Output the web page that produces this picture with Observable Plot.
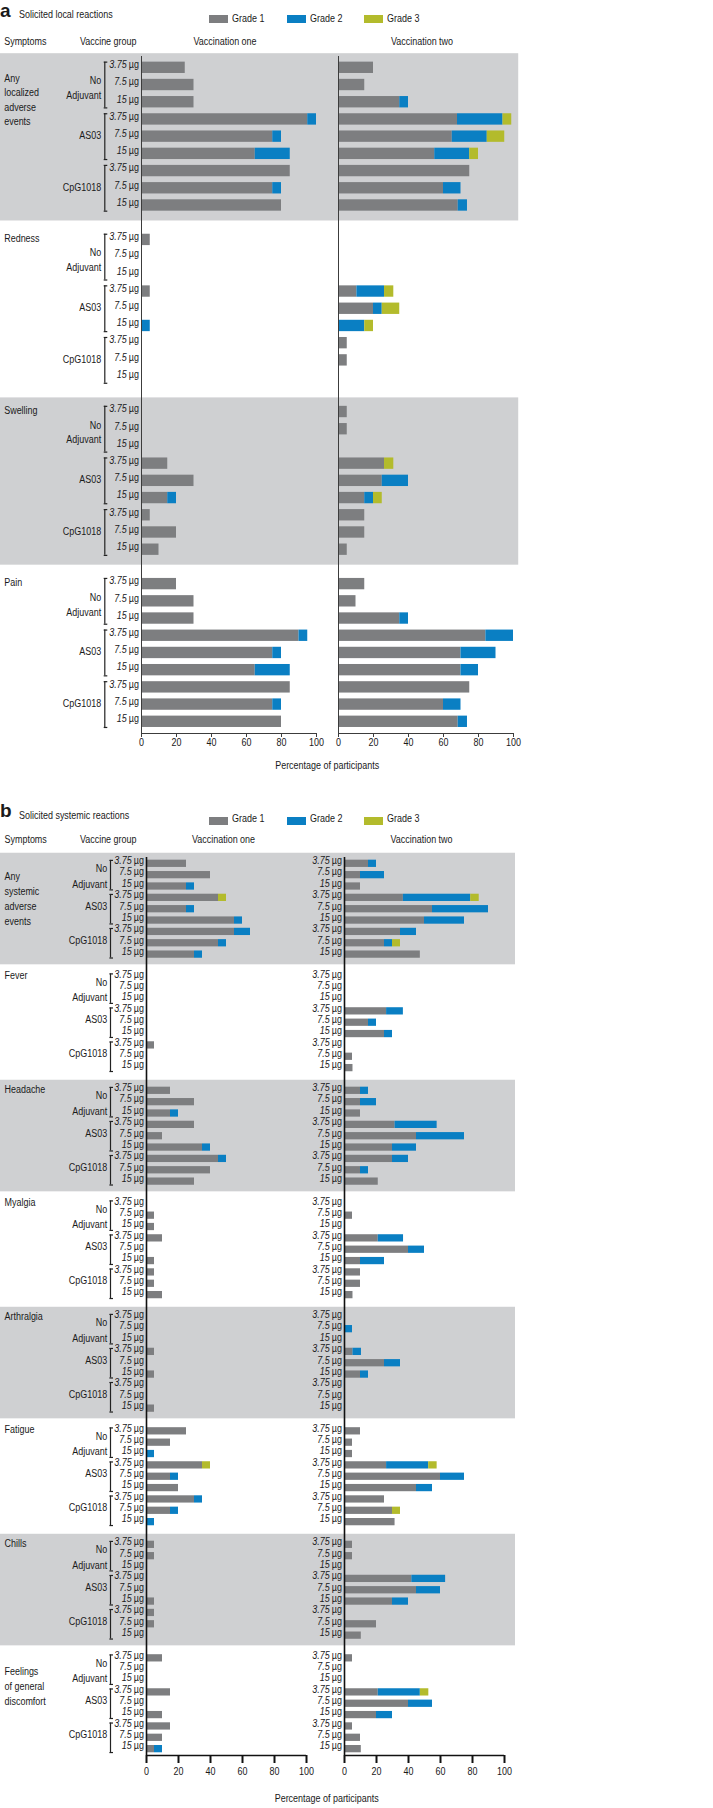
<!DOCTYPE html>
<html><head><meta charset="utf-8">
<script src="https://cdn.jsdelivr.net/npm/d3@7"></script>
<script src="https://cdn.jsdelivr.net/npm/@observablehq/plot@0.6"></script>
<style>
body{margin:0;background:#fff;}
#page{position:relative;width:713px;height:1808px;overflow:hidden;font-family:"Liberation Sans",Arial,sans-serif;color:#1a1a1a;}
.abs{position:absolute;line-height:1;white-space:nowrap;}
.letter{font-weight:bold;font-size:19px;}
.t{font-size:11.5px;transform:scaleX(0.78);transform-origin:0 0;}
.sw{position:absolute;width:19px;height:8px;}
</style></head>
<body><div id="page"></div>
<script>
// ---------- data ----------
const vaccinations = ["Vaccination one", "Vaccination two"];
const grades = ["Grade 1", "Grade 2", "Grade 3"];
const gradeColors = ["#7d7e80", "#0a7fc3", "#b3bb2c"];
const groups = ["No\nAdjuvant", "AS03", "CpG1018"];
const doses = ["3.75", "7.5", "15"];
const xTicks = [0, 20, 40, 60, 80, 100];

const localSymptoms = ["Any\nlocalized\nadverse\nevents", "Redness", "Swelling", "Pain"];
// order within each symptom: No Adjuvant 3.75/7.5/15, AS03 3.75/7.5/15, CpG1018 3.75/7.5/15
const local1G1 = [25,30,30, 95,75,65, 85,75,80,  5,0,0, 5,0,0, 0,0,0,  0,0,0, 15,30,15, 5,20,10,  20,30,30, 90,75,65, 85,75,80];
const local1G2 = [0,0,0, 5,5,20, 0,5,0,  0,0,0, 0,0,5, 0,0,0,  0,0,0, 0,0,5, 0,0,0,  0,0,0, 5,5,20, 0,5,0];
const local1G3 = [0,0,0, 0,0,0, 0,0,0,  0,0,0, 0,0,0, 0,0,0,  0,0,0, 0,0,0, 0,0,0,  0,0,0, 0,0,0, 0,0,0];
const local2G1 = [20,15,35, 68,65,55, 75,60,68.4,  0,0,0, 10.5,20,0, 5,5,0,  5,5,0, 26.3,25,15, 15,15,5,  15,10,35, 84.2,70,70, 75,60,68.4];
const local2G2 = [0,0,5, 26,20,20, 0,10,5.3,  0,0,0, 15.8,5,15, 0,0,0,  0,0,0, 0,15,5, 0,0,0,  0,0,5, 15.8,20,10, 0,10,5.3];
const local2G3 = [0,0,0, 5,10,5, 0,0,0,  0,0,0, 5.3,10,5, 0,0,0,  0,0,0, 5.3,0,5, 0,0,0,  0,0,0, 0,0,0, 0,0,0];

const systemicSymptoms = ["Any\nsystemic\nadverse\nevents", "Fever", "Headache", "Myalgia", "Arthralgia", "Fatigue", "Chills", "Feelings\nof general\ndiscomfort"];
const sys1G1 = [25,40,25, 45,25,55, 55,45,30,  0,0,0, 0,0,0, 5,0,0,  15,30,15, 30,10,35, 45,40,30,  0,5,5, 10,0,5, 5,5,10,
                0,0,0, 5,0,5, 0,0,5,  25,15,0, 35,15,20, 30,15,0,  5,5,0, 0,0,5, 5,5,0,  10,0,0, 15,0,10, 15,10,5];
const sys1G2 = [0,0,5, 0,5,5, 10,5,5,  0,0,0, 0,0,0, 0,0,0,  0,0,5, 0,0,5, 5,0,0,  0,0,0, 0,0,0, 0,0,0,
                0,0,0, 0,0,0, 0,0,0,  0,0,5, 0,5,0, 5,5,5,  0,0,0, 0,0,0, 0,0,0,  0,0,0, 0,0,0, 0,0,5];
const sys1G3 = [0,0,0, 5,0,0, 0,0,0,  0,0,0, 0,0,0, 0,0,0,  0,0,0, 0,0,0, 0,0,0,  0,0,0, 0,0,0, 0,0,0,
                0,0,0, 0,0,0, 0,0,0,  0,0,0, 5,0,0, 0,0,0,  0,0,0, 0,0,0, 0,0,0,  0,0,0, 0,0,0, 0,0,0];
const sys2G1 = [15,10,10, 36.8,55,50, 35,25,47.4,  0,0,0, 26.3,15,25, 0,5,5.3,  10,10,10, 31.6,45,30, 30,10,21.1,  0,5,0, 21.1,40,10, 10,10,5.3,
                0,0,0, 5.3,25,10, 0,0,0,  10,5,5, 26.3,60,45, 25,30,31.6,  5,5,0, 42.1,45,30, 0,20,10.5,  5,0,0, 21.1,40,20, 5,10,10.5];
const sys2G2 = [5,15,0, 42.1,35,25, 10,5,0,  0,0,0, 10.5,5,5, 0,0,0,  5,10,0, 26.3,30,15, 10,5,0,  0,0,0, 15.8,10,15, 0,0,0,
                0,5,0, 5.3,10,5, 0,0,0,  0,0,0, 26.3,15,10, 0,0,0,  0,0,0, 21.1,15,10, 0,0,0,  0,0,0, 26.3,15,10, 0,0,0];
const sys2G3 = [0,0,0, 5.3,0,0, 0,5,0,  0,0,0, 0,0,0, 0,0,0,  0,0,0, 0,0,0, 0,0,0,  0,0,0, 0,0,0, 0,0,0,
                0,0,0, 0,0,0, 0,0,0,  0,0,0, 5.3,0,0, 0,5,0,  0,0,0, 0,0,0, 0,0,0,  0,0,0, 5.3,0,0, 0,0,0];

// ---------- layout ----------
const FONT = '"Liberation Sans",Arial,sans-serif';
const SX = 0.78; // horizontal condensing of text (condensed sans look)
const W = 713;
const panels = [
  {letter: "a", title: "Solicited local reactions", symptoms: localSymptoms,
   values: [[local1G1, local1G2, local1G3], [local2G1, local2G2, local2G3]],
   top: 30, height: 748, marginTop: 26, marginBottom: 45, marginLeft: 141, marginRight: 198.7, fxPad: 0.11,
   yDomain: [-0.657, 38.68], band: [0.82, 0.9], bandRight: 519, halfBar: 0.33, bracketPad: 0.33,
   doseFacets: [vaccinations[0]], axisColor: "#3c3c3c", axisWidth: 1, tickSize: 4, tickWidth: 1, tickPadding: 8,
   symptomDx: -137.3, symptomDy: 1, multiDy: 3, symptomLH: 1.25, groupDx: -40.3, groupDy: 2, groupLH: 1.3, bracketDx: -36.7,
   headerDy: -12, headerDx: -4, vgDx: -5, xLabelDx: 10.7, xLabelDy: 35,
   letterTop: 1.4, titleTop: 9.3, legendTop: 13.3, swTop: 15},
  {letter: "b", title: "Solicited systemic reactions", symptoms: systemicSymptoms,
   values: [[sys1G1, sys1G2, sys1G3], [sys2G1, sys2G2, sys2G3]],
   top: 828, height: 980, marginTop: 29, marginBottom: 53, marginLeft: 146, marginRight: 209, fxPad: 0.192,
   yDomain: [-0.555, 78.56], band: [0.93, 0.9], bandRight: 515, halfBar: 0.32, bracketPad: 0.3,
   doseFacets: vaccinations, axisColor: "#111", axisWidth: 1.6, tickSize: 8, tickWidth: 2, tickPadding: 10.6,
   symptomDx: -142, symptomDy: 1, multiDy: 4.5, symptomLH: 1.31, groupDx: -39.3, groupDy: 0, groupLH: 1.34, bracketDx: -36,
   headerDy: -15.3, headerDx: -3, vgDx: -10, xLabelDx: 20.2, xLabelDy: 46,
   letterTop: 801, titleTop: 810.3, legendTop: 813.3, swTop: 816.5}
];
const swLeft = [209, 286.5, 364];
const legLeft = [232, 310, 386.7];

const page = document.getElementById("page");
function addDiv(cls, text, left, top, extra) {
  const d = document.createElement("div");
  d.className = cls;
  if (text != null) d.textContent = text;
  d.style.left = left + "px"; d.style.top = top + "px";
  if (extra) Object.assign(d.style, extra);
  page.appendChild(d);
  return d;
}
function condense(svg, sx) {
  svg.querySelectorAll("text").forEach((t) => {
    const x = parseFloat(t.getAttribute("x")) || 0, y = parseFloat(t.getAttribute("y")) || 0;
    const tr = t.getAttribute("transform") || "";
    t.removeAttribute("x"); t.removeAttribute("y");
    t.setAttribute("transform", `${tr} translate(${x},${y}) scale(${sx},1)`);
  });
}

const rowOf = (i) => Math.floor(i / 9) * 10 + (i % 9);

for (const c of panels) {
  addDiv("abs letter", c.letter, 0, c.letterTop);
  addDiv("abs t", c.title, 19.3, c.titleTop);
  grades.forEach((g, i) => {
    addDiv("sw", null, swLeft[i], c.swTop, {background: gradeColors[i]});
    addDiv("abs t", g, legLeft[i], c.legendTop);
  });

  const bars = [];
  c.values.forEach((byGrade, vi) => byGrade.forEach((arr, gi) => arr.forEach((value, i) => {
    if (!(value > 0)) return;
    const row = rowOf(i);
    bars.push({vacc: vaccinations[vi], grade: grades[gi], value, y1: row - c.halfBar, y2: row + c.halfBar});
  })));
  const doseRows = c.doseFacets.flatMap((v) => c.symptoms.flatMap((s, si) => groups.flatMap((g, gi) =>
    doses.map((d, di) => ({vacc: v, row: si * 10 + gi * 3 + di, dose: d})))));
  const groupRows = c.symptoms.flatMap((s, si) => groups.map((g, gi) => ({
    vacc: vaccinations[0], row: si * 10 + gi * 3 + 1, label: g,
    y1: si * 10 + gi * 3 - c.bracketPad, y2: si * 10 + gi * 3 + 2 + c.bracketPad})));
  const symptomRows = c.symptoms.map((s, si) => ({vacc: vaccinations[0], row: si * 10, label: s}));
  const bands = c.symptoms.map((s, si) => ({vacc: vaccinations[0], si, y1: si * 10 - c.band[0], y2: si * 10 + 8 + c.band[1]}))
    .filter((d) => d.si % 2 === 0);
  const inner = W - c.marginLeft - c.marginRight;
  const bw = inner * (1 - c.fxPad) / (2 - c.fxPad);
  const facet1Right = c.marginLeft + bw;
  const first = [{vacc: vaccinations[0]}];
  const symText = {y: "row", fx: "vacc", text: "label", frameAnchor: "left", textAnchor: "start", lineAnchor: "top", dx: c.symptomDx, lineHeight: c.symptomLH};

  const chart = Plot.plot({
    width: W, height: c.height,
    marginTop: c.marginTop, marginBottom: c.marginBottom, marginLeft: c.marginLeft, marginRight: c.marginRight,
    style: {fontFamily: FONT, fontSize: "11.5px", color: "#1a1a1a", background: "transparent", overflow: "visible"},
    fx: {domain: vaccinations, paddingInner: c.fxPad, paddingOuter: 0, axis: null, label: null},
    x: {domain: [0, 100]},
    y: {domain: c.yDomain, reverse: true, axis: null},
    color: {domain: grades, range: gradeColors},
    marks: [
      Plot.rect(bands, {y1: "y1", y2: "y2", fx: "vacc", fill: "#cfd0d2", insetLeft: -c.marginLeft, insetRight: -(c.bandRight - facet1Right)}),
      Plot.rectX(bars, {x: "value", y1: "y1", y2: "y2", fx: "vacc", fill: "grade"}),
      Plot.ruleX([0], {stroke: c.axisColor, strokeWidth: c.axisWidth}),
      Plot.ruleY([c.yDomain[1]], {stroke: c.axisColor, strokeWidth: c.axisWidth}),
      Plot.axisX({ticks: xTicks, tickSize: c.tickSize, tickPadding: c.tickPadding, label: null, strokeWidth: c.tickWidth, stroke: c.axisColor}),
      Plot.text(doseRows, {y: "row", fx: "vacc", text: "dose", frameAnchor: "left", textAnchor: "end", lineAnchor: "middle", dx: -14.8, fontStyle: "italic"}),
      Plot.text(doseRows, {y: "row", fx: "vacc", text: () => "µg", frameAnchor: "left", textAnchor: "end", lineAnchor: "middle", dx: -2.6}),
      Plot.text(groupRows, {y: "row", fx: "vacc", text: "label", frameAnchor: "left", textAnchor: "end", lineAnchor: "middle", dx: c.groupDx, dy: c.groupDy, lineHeight: c.groupLH}),
      Plot.ruleX(groupRows, {x: 0, y1: "y1", y2: "y2", fx: "vacc", dx: c.bracketDx, stroke: "#222", strokeWidth: 1.2}),
      Plot.ruleY(groupRows, {y: "y1", x1: 0, x2: 0, fx: "vacc", dx: c.bracketDx, insetLeft: -0.6, insetRight: -3, stroke: "#222", strokeWidth: 1.2}),
      Plot.ruleY(groupRows, {y: "y2", x1: 0, x2: 0, fx: "vacc", dx: c.bracketDx, insetLeft: -0.6, insetRight: -3, stroke: "#222", strokeWidth: 1.2}),
      Plot.text(symptomRows.filter((d) => !d.label.includes("\n")), {...symText, dy: c.symptomDy}),
      Plot.text(symptomRows.filter((d) => d.label.includes("\n")), {...symText, dy: c.symptomDy + c.multiDy}),
      Plot.text(vaccinations, {fx: (d) => d, text: (d) => d, frameAnchor: "top", lineAnchor: "middle", dx: c.headerDx, dy: c.headerDy}),
      Plot.text(first, {fx: "vacc", text: () => "Symptoms", frameAnchor: "top-left", textAnchor: "start", lineAnchor: "middle", dx: c.symptomDx, dy: c.headerDy}),
      Plot.text(first, {fx: "vacc", text: () => "Vaccine group", frameAnchor: "top-left", textAnchor: "end", lineAnchor: "middle", dx: c.vgDx, dy: c.headerDy}),
      Plot.text(first, {fx: "vacc", text: () => "Percentage of participants", frameAnchor: "bottom-right", textAnchor: "middle", lineAnchor: "middle", dx: c.xLabelDx, dy: c.xLabelDy})
    ]
  });
  condense(chart, SX);
  chart.style.position = "absolute";
  chart.style.left = "0px";
  chart.style.top = c.top + "px";
  page.appendChild(chart);
}
</script></body></html>
